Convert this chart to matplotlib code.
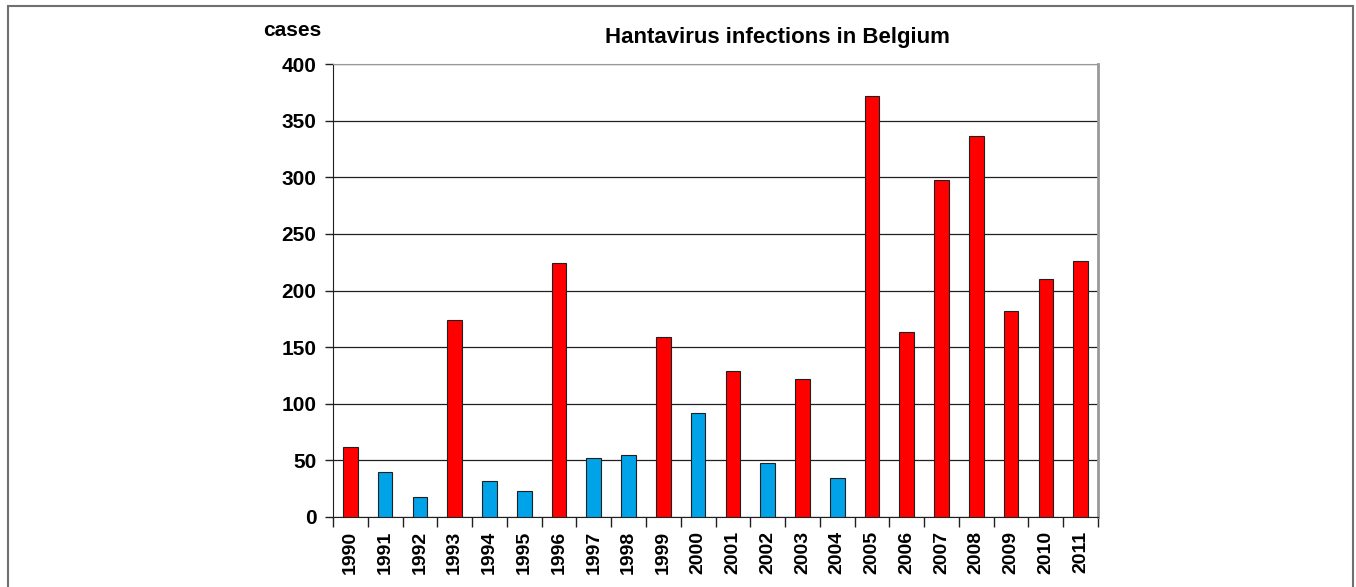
import matplotlib.pyplot as plt
from matplotlib.patches import Rectangle

years = [str(y) for y in range(1990, 2012)]
cases = [62, 40, 18, 174, 32, 23, 224, 52, 55, 159, 92, 129, 48, 122, 34,
         372, 163, 298, 336, 182, 210, 226]
# red = high-incidence years, blue = low-incidence years
high_year = [1, 0, 0, 1, 0, 0, 1, 0, 0, 1, 0, 1, 0, 1, 0,
             1, 1, 1, 1, 1, 1, 1]
yticks = [0, 50, 100, 150, 200, 250, 300, 350, 400]


def main():
    plt.rcParams['font.family'] = ['Liberation Sans', 'DejaVu Sans']
    fig = plt.figure(figsize=(13.56, 5.87), dpi=100)
    ax = fig.add_axes([333 / 1356, 70 / 587, 765 / 1356, 453 / 587])

    colors = ['#ff0000' if h else '#00a2e8' for h in high_year]
    x = range(len(years))
    ax.bar(x, cases, width=0.42, color=colors, edgecolor='#202020',
           linewidth=0.8, zorder=3)

    ax.set_xlim(-0.5, len(years) - 0.5)
    ax.set_ylim(0, 400)
    ax.set_yticks(yticks)
    ax.set_yticklabels([str(v) for v in yticks], fontsize=15, fontweight='bold')
    ax.yaxis.grid(True, color='#202020', linewidth=0.9, zorder=0)

    ax.set_xticks(list(x))
    ax.set_xticklabels(years, rotation=90, fontsize=14, fontweight='bold')
    ax.tick_params(axis='x', length=0, pad=10)
    ax.set_xticks([i - 0.5 for i in range(len(years) + 1)], minor=True)
    ax.tick_params(axis='x', which='minor', length=7, width=1, color='#202020')
    ax.tick_params(axis='y', length=6, width=1, color='#202020', pad=6)

    ax.spines['left'].set_color('#202020')
    ax.spines['bottom'].set_color('#202020')
    ax.spines['top'].set_color('#999999')
    ax.spines['right'].set_color('#999999')
    ax.spines['right'].set_linewidth(2)

    fig.text(777 / 1356, 1 - 37 / 587, 'Hantavirus infections in Belgium',
             ha='center', va='center', fontsize=16, fontweight='bold')
    fig.text(292 / 1356, 1 - 30 / 587, 'cases', ha='center', va='center',
             fontsize=15, fontweight='bold')

    fig.patches.append(Rectangle((8 / 1356, -0.01), 1345 / 1356, 1 - 6 / 587 + 0.01,
                                 transform=fig.transFigure, fill=False,
                                 edgecolor='#707070', linewidth=1.5))

    fig.savefig('out.png', dpi=100)


if __name__ == "__main__":
    main()
